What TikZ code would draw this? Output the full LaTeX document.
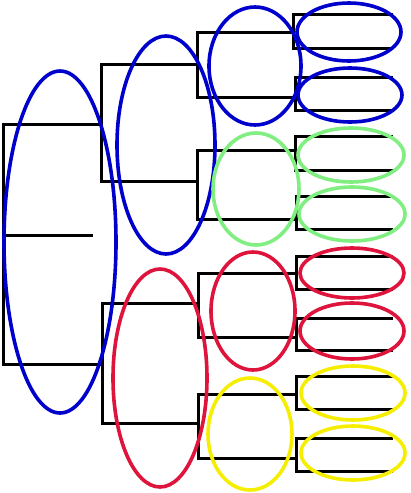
\documentclass[tikz,border=0pt]{standalone}
\usetikzlibrary{calc}
\definecolor{eblue}{RGB}{0,0,205}
\definecolor{egreen}{RGB}{128,238,128}
\definecolor{ered}{RGB}{222,20,60}
\definecolor{eyellow}{RGB}{245,238,0}
\tikzset{
  branch/.style={draw=black, line width=3pt, line join=miter},
  ring/.style={line width=3.6pt},
}
\newcommand{\brk}[5]{% name, xv, ytop, ybot, xright
  \coordinate (#1-tr) at (#5,#3);
  \coordinate (#1-tl) at (#2,#3);
  \coordinate (#1-bl) at (#2,#4);
  \coordinate (#1-br) at (#5,#4);
  \draw[branch] (#1-tr) -- (#1-tl) -- (#1-bl) -- (#1-br);
}
\begin{document}
\begin{tikzpicture}[x=1pt,y=-1pt]
\useasboundingbox (0,0) rectangle (410,493);
% tree
\brk{root}{3}{124}{364}{101}
\coordinate (stubL) at (3,235);
\coordinate (stubR) at (93,235);
\draw[branch] (stubL) -- (stubR);
\brk{up}{101}{64}{181}{197}
\brk{lo}{102}{303}{423}{198}
\brk{a}{197}{32}{97}{294}
\brk{b}{197}{150}{219}{295}
\brk{c}{198}{273}{337}{296}
\brk{d}{198}{394}{458}{296}
\brk{l1}{293}{14}{48}{393}
\brk{l2}{295}{77}{110}{393}
\brk{l3}{295}{136}{170}{393}
\brk{l4}{296}{196}{229}{393}
\brk{l5}{296}{256}{289}{393}
\brk{l6}{296}{318}{350}{393}
\brk{l7}{296}{376}{409}{393}
\brk{l8}{296}{438}{471}{393}
% ellipses
\draw[ring,eblue] (60,242) ellipse [x radius=56, y radius=171];
\draw[ring,eblue] (166,145) ellipse [x radius=49, y radius=109];
\draw[ring,ered] (160,378) ellipse [x radius=47, y radius=109];
\draw[ring,eblue] (255,66) ellipse [x radius=46, y radius=59];
\draw[ring,egreen] (256,189) ellipse [x radius=43, y radius=56];
\draw[ring,ered] (253,311) ellipse [x radius=42, y radius=59];
\draw[ring,eyellow] (250,434) ellipse [x radius=42, y radius=56];
\draw[ring,eblue] (349,32) ellipse [x radius=52, y radius=29];
\draw[ring,eblue] (350,95) ellipse [x radius=52, y radius=27];
\draw[ring,egreen] (351,155) ellipse [x radius=53, y radius=27];
\draw[ring,egreen] (352,214) ellipse [x radius=53, y radius=27];
\draw[ring,ered] (352,273) ellipse [x radius=52, y radius=25];
\draw[ring,ered] (352,331) ellipse [x radius=52, y radius=28];
\draw[ring,eyellow] (353,393) ellipse [x radius=52, y radius=27];
\draw[ring,eyellow] (353,453) ellipse [x radius=52, y radius=27];
\end{tikzpicture}
\end{document}
